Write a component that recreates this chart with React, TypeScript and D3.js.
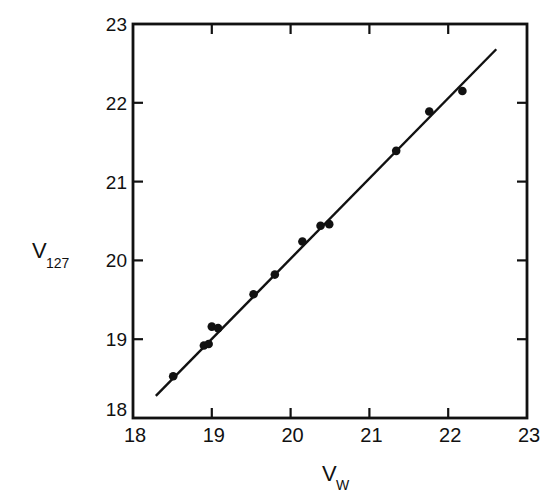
import React from 'react';
import * as d3 from 'd3';

// measured points, V_W vs V_127
const vw = [18.51, 18.90, 18.96, 19.00, 19.08, 19.53, 19.80, 20.15, 20.38, 20.49, 21.34, 21.76, 22.18];
const v127 = [18.53, 18.92, 18.94, 19.16, 19.14, 19.57, 19.82, 20.24, 20.44, 20.46, 21.39, 21.89, 22.15];
// fitted line end points
const fitX = [18.29, 22.61];
const fitY = [18.28, 22.68];
const ticks = [18, 19, 20, 21, 22, 23];

const frame = { left: 133, right: 527, top: 24, bottom: 418 };
const font = '"Liberation Sans", Arial, sans-serif';

export default function App() {
    const x = d3.scaleLinear().domain([18, 23]).range([frame.left, frame.right]);
    const y = d3.scaleLinear().domain([18, 23]).range([frame.bottom, frame.top]);
    const line = d3.line<number>().x(d => x(fitX[d])).y(d => y(fitY[d]));
    const tickLen = 10;

    return (
        <svg width={560} height={500} style={{ position: 'absolute', left: 0, top: 0, background: '#fff' }}>
            <rect x={frame.left} y={frame.top} width={frame.right - frame.left} height={frame.bottom - frame.top}
                  fill="none" stroke="#111" strokeWidth={2.8} />
            {ticks.slice(1, -1).map(t => (
                <g key={'t' + t} stroke="#111" strokeWidth={2.2}>
                    <line x1={x(t)} x2={x(t)} y1={frame.bottom} y2={frame.bottom - tickLen} />
                    <line x1={x(t)} x2={x(t)} y1={frame.top} y2={frame.top + tickLen} />
                    <line x1={frame.left} x2={frame.left + tickLen} y1={y(t)} y2={y(t)} />
                    <line x1={frame.right} x2={frame.right - tickLen} y1={y(t)} y2={y(t)} />
                </g>
            ))}
            {ticks.map(t => (
                <text key={'xl' + t} x={x(t) + 2} y={442} textAnchor="middle" fontFamily={font} fontSize={20} fill="#111">{t}</text>
            ))}
            {ticks.map(t => (
                <text key={'yl' + t} x={frame.left - 6} y={y(t) + (t === 18 ? -2 : 7)} textAnchor="end"
                      fontFamily={font} fontSize={19} fill="#111">{t}</text>
            ))}
            <path d={line([0, 1]) || ''} fill="none" stroke="#111" strokeWidth={2.4} />
            {vw.map((v, i) => (
                <circle key={i} cx={x(v)} cy={y(v127[i])} r={4.3} fill="#111" />
            ))}
            <text x={322} y={481} fontFamily={font} fontSize={22} fill="#111">V</text>
            <text x={336} y={490} fontFamily={font} fontSize={14} fill="#111">W</text>
            <text x={32} y={258} fontFamily={font} fontSize={22} fill="#111">V</text>
            <text x={46} y={268} fontFamily={font} fontSize={14} fill="#111">127</text>
        </svg>
    );
}
